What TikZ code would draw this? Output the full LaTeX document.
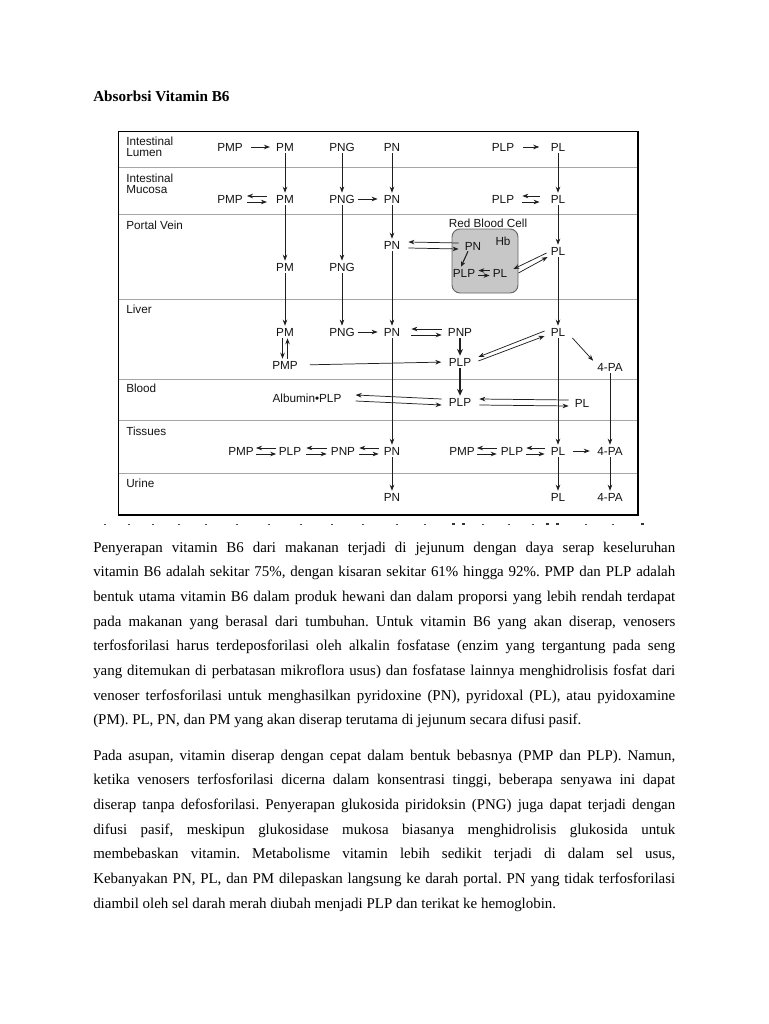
\documentclass[tikz,border=0pt]{standalone}
\usepackage{fontspec}
\setmainfont{Liberation Serif}
\newfontfamily\arialf{Liberation Sans}
\usetikzlibrary{arrows.meta,calc}
\frenchspacing
\tikzset{
  lab/.style={font=\arialf\fontsize{8.8}{10}\selectfont, inner sep=1.5pt, text=black!92},
  rowlab/.style={font=\arialf\fontsize{8.8}{10}\selectfont, inner sep=0pt, anchor=base west, text=black!92},
  arr/.style={draw=black!88, line width=0.55pt, -{Stealth[length=4.5pt,width=3.4pt]}},
  thk/.style={draw=black!88, line width=1.1pt, -{Stealth[length=5pt,width=4.4pt]}},
  sepline/.style={draw=black!35, line width=0.7pt},
  body/.style={font=\fontsize{11.2}{13}\selectfont, anchor=base west, inner sep=0pt},
  titlestyle/.style={font=\bfseries\fontsize{11.4}{13}\selectfont, anchor=base west, inner sep=0pt},
  rbcbox/.style={draw=black!60, fill=black!22, rounded corners=6pt, line width=0.7pt,
    minimum width=49.5pt, minimum height=48pt, inner sep=0pt},
}
% equilibrium arrows: #1 half gap, #2 left node, #3 right node, #4 left pad, #5 right pad
\newcommand\eqa[5][3]{%
  \draw[arr] ($(#3.west)+(-#5,-#1)$) -- ($(#2.east)+(#4,-#1)$);
  \draw[arr] ($(#2.east)+(#4,#1)$) -- ($(#3.west)+(-#5,#1)$);}
\newcommand\jline[3]{\node[body] (#1) at (93,#2) {\makebox[436.5pt][s]{#3}};}
\newcommand\lline[3]{\node[body] (#1) at (93,#2) {#3};}
\begin{document}
\begin{tikzpicture}[x=0.75pt,y=-0.75pt]
\useasboundingbox (0,0) rectangle (768,1024);
\fill[white] (0,0) rectangle (768,1024);

% title
\node[titlestyle] (title) at (93,101) {Absorbsi Vitamin B6};

% frame and row separators
\draw[black, line width=0.7pt] (118,131) rectangle (638,515);
\draw[black, line width=1.5pt] (638,131) -- (638,515) -- (118,515);
\foreach \yy in {167,214,299,379,420,473}
  \draw[sepline] (118.5,\yy) -- (637,\yy);

% row labels
\node[rowlab] (lab1) at (126,145) {Intestinal};
\node[rowlab] (lab2) at (126,156) {Lumen};
\node[rowlab] (lab3) at (126,182) {Intestinal};
\node[rowlab] (lab4) at (126,193) {Mucosa};
\node[rowlab] (lab5) at (126,229) {Portal Vein};
\node[rowlab] (lab6) at (126,313) {Liver};
\node[rowlab] (lab7) at (126,392) {Blood};
\node[rowlab] (lab8) at (126,435) {Tissues};
\node[rowlab] (lab9) at (126,487) {Urine};

% red blood cell
\node[rbcbox] (rbc) at (485,261) {};
\node[lab] (rbclab) at (488,223) {Red Blood Cell};
\node[lab] (hb) at (503,241) {Hb};

% lumen
\node[lab] (lPMP) at (230,147) {PMP};
\node[lab] (lPM)  at (285,147) {PM};
\node[lab] (lPNG) at (342,147) {PNG};
\node[lab] (lPN)  at (392,147) {PN};
\node[lab] (lPLP) at (503,147) {PLP};
\node[lab] (lPL)  at (558,147) {PL};
% mucosa
\node[lab] (mPMP) at (230,199) {PMP};
\node[lab] (mPM)  at (285,199) {PM};
\node[lab] (mPNG) at (342,199) {PNG};
\node[lab] (mPN)  at (392,199) {PN};
\node[lab] (mPLP) at (503,199) {PLP};
\node[lab] (mPL)  at (558,199) {PL};
% portal vein
\node[lab] (pPN)  at (392,245) {PN};
\node[lab] (pPM)  at (285,267) {PM};
\node[lab] (pPNG) at (342,267) {PNG};
\node[lab] (pPL)  at (558,251) {PL};
\node[lab] (rPN)  at (473,246) {PN};
\node[lab] (rPLP) at (464,273) {PLP};
\node[lab] (rPL)  at (500,273) {PL};
% liver
\node[lab] (vPM)  at (285,332) {PM};
\node[lab] (vPNG) at (342,332) {PNG};
\node[lab] (vPN)  at (392,332) {PN};
\node[lab] (vPNP) at (460,332) {PNP};
\node[lab] (vPL)  at (558,332) {PL};
\node[lab] (vPMP) at (285,365) {PMP};
\node[lab] (vPLP) at (460,362) {PLP};
\node[lab] (v4PA) at (610,367) {4-PA};
% blood
\node[lab] (bAlb) at (307,398) {Albumin\textbullet PLP};
\node[lab] (bPLP) at (460,402) {PLP};
\node[lab] (bPL)  at (582,403) {PL};
% tissues
\node[lab] (tPMP)  at (241,451) {PMP};
\node[lab] (tPLP)  at (290,451) {PLP};
\node[lab] (tPNP)  at (343,451) {PNP};
\node[lab] (tPN)   at (392,451) {PN};
\node[lab] (tPMP2) at (462,451) {PMP};
\node[lab] (tPLP2) at (512,451) {PLP};
\node[lab] (tPL)   at (558,451) {PL};
\node[lab] (t4PA)  at (610,451) {4-PA};
% urine
\node[lab] (uPN)  at (392,497) {PN};
\node[lab] (uPL)  at (558,497) {PL};
\node[lab] (u4PA) at (610,497) {4-PA};

% ---- connectors ----
% lumen horizontal
\draw[arr, shorten <=4.5pt, shorten >=3pt] (lPMP.east) -- (lPM.west);
\draw[arr, shorten <=5pt, shorten >=7pt] (lPLP.east) -- (lPL.west);
% mucosa
\eqa{mPMP}{mPM}{2}{7}
\draw[arr, shorten <=0.5pt, shorten >=3pt] (mPNG.east) -- (mPN.west);
\eqa{mPLP}{mPL}{6}{9}
% verticals lumen->mucosa->portal->liver
\draw[arr] (lPM) -- (mPM);
\draw[arr] (lPNG) -- (mPNG);
\draw[arr] (lPN) -- (mPN);
\draw[arr] (lPL) -- (mPL);
\draw[arr] (mPM) -- (pPM);
\draw[arr] (mPNG) -- (pPNG);
\draw[arr] (mPN) -- (pPN);
\draw[arr] (mPL) -- (pPL);
\draw[arr] (pPM) -- (vPM);
\draw[arr] (pPNG) -- (vPNG);
\draw[arr] (pPN) -- (vPN);
\draw[arr] (pPL) -- (vPL);
% red blood cell exchanges
\eqa{pPN}{rPN}{6}{4}
\draw[thk, -{Stealth[length=4pt,width=3.6pt]}, line width=0.8pt] ($(rPN.south)+(-5,-1)$) -- ($(rPLP.north)+(-3,0)$);
\eqa[2.5]{rPLP}{rPL}{1}{1}
\draw[arr] ($(pPL.west)+(-2,2)$) -- ($(rPL.east)+(4,-4)$);
\draw[arr] ($(rPL.east)+(9,0)$) -- ($(pPL.west)+(-1,6)$);
% liver
\draw[arr, shorten <=0.5pt, shorten >=3pt] (vPNG.east) -- (vPN.west);
\eqa{vPN}{vPNP}{9}{4}
\draw[arr] ($(vPM.south)+(-2.5,0)$) -- ($(vPMP.north)+(-2.5,0)$);
\draw[arr] ($(vPMP.north)+(2.5,0)$) -- ($(vPM.south)+(2.5,0)$);
\draw[thk] (vPNP) -- (vPLP);
\draw[arr, shorten <=7.5pt, shorten >=4pt] (vPMP.east) -- (vPLP.west);
\draw[arr] ($(vPL.west)+(-4,-1)$) -- ($(vPLP.east)+(5,-5)$);
\draw[arr] ($(vPLP.east)+(5,-1)$) -- ($(vPL.west)+(-4,4)$);
\draw[arr] ($(vPL.east)+(5,6)$) -- ($(v4PA.north west)+(-2,0)$);
% liver -> blood / tissues
\draw[thk] (vPLP) -- (bPLP);
\draw[arr] (vPN) -- (tPN);
\draw[arr] (vPL) -- (tPL);
\draw[arr] (v4PA) -- (t4PA);
% blood
\eqa{bAlb}{bPLP}{12}{5}
\eqa{bPLP}{bPL}{6}{4}
% tissues
\eqa{tPMP}{tPLP}{0}{0.5}
\eqa{tPLP}{tPNP}{3}{2}
\eqa{tPNP}{tPN}{2}{3}
\eqa{tPMP2}{tPLP2}{0}{2}
\eqa{tPLP2}{tPL}{1}{4}
\draw[arr, shorten <=4pt, shorten >=4pt] (tPL.east) -- (t4PA.west);
% tissues -> urine
\draw[arr] (tPN) -- (uPN);
\draw[arr] (tPL) -- (uPL);
\draw[arr] (t4PA) -- (u4PA);

% remnants of a cropped caption line
\foreach \xx in {104,128,152,178,205,236,268,300,331,362,396,424,482,508,532,585,612}
  \fill[black!70] (\xx,523.5) rectangle ++(2,1.5);
\foreach \xx in {452,462,546,556,641}
  \fill[black!80] (\xx,522.5) rectangle ++(3,2.5);

% body text
\jline{t1}{552}{Penyerapan vitamin B6 dari makanan terjadi di jejunum dengan daya serap keseluruhan}
\jline{t2}{576.7}{vitamin B6 adalah sekitar 75\%, dengan kisaran sekitar 61\% hingga 92\%. PMP dan PLP adalah}
\jline{t3}{601.4}{bentuk utama vitamin B6 dalam produk hewani dan dalam proporsi yang lebih rendah terdapat}
\jline{t4}{626.1}{pada makanan yang berasal dari tumbuhan. Untuk vitamin B6 yang akan diserap, venosers}
\jline{t5}{650.8}{terfosforilasi harus terdeposforilasi oleh alkalin fosfatase (enzim yang tergantung pada seng}
\jline{t6}{675.5}{yang ditemukan di perbatasan mikroflora usus) dan fosfatase lainnya menghidrolisis fosfat dari}
\jline{t7}{700.2}{venoser terfosforilasi untuk menghasilkan pyridoxine (PN), pyridoxal (PL), atau pyidoxamine}
\lline{t8}{724.9}{(PM). PL, PN, dan PM yang akan diserap terutama di jejunum secara difusi pasif.}

\jline{u1}{760}{Pada asupan, vitamin diserap dengan cepat dalam bentuk bebasnya (PMP dan PLP). Namun,}
\jline{u2}{784.7}{ketika venosers terfosforilasi dicerna dalam konsentrasi tinggi, beberapa senyawa ini dapat}
\jline{u3}{809.4}{diserap tanpa defosforilasi. Penyerapan glukosida piridoksin (PNG) juga dapat terjadi dengan}
\jline{u4}{834.1}{difusi pasif, meskipun glukosidase mukosa biasanya menghidrolisis glukosida untuk}
\jline{u5}{858.8}{membebaskan vitamin. Metabolisme vitamin lebih sedikit terjadi di dalam sel usus,}
\jline{u6}{883.5}{Kebanyakan PN, PL, dan PM dilepaskan langsung ke darah portal. PN yang tidak terfosforilasi}
\lline{u7}{908.2}{diambil oleh sel darah merah diubah menjadi PLP dan terikat ke hemoglobin.}
\end{tikzpicture}
\end{document}
